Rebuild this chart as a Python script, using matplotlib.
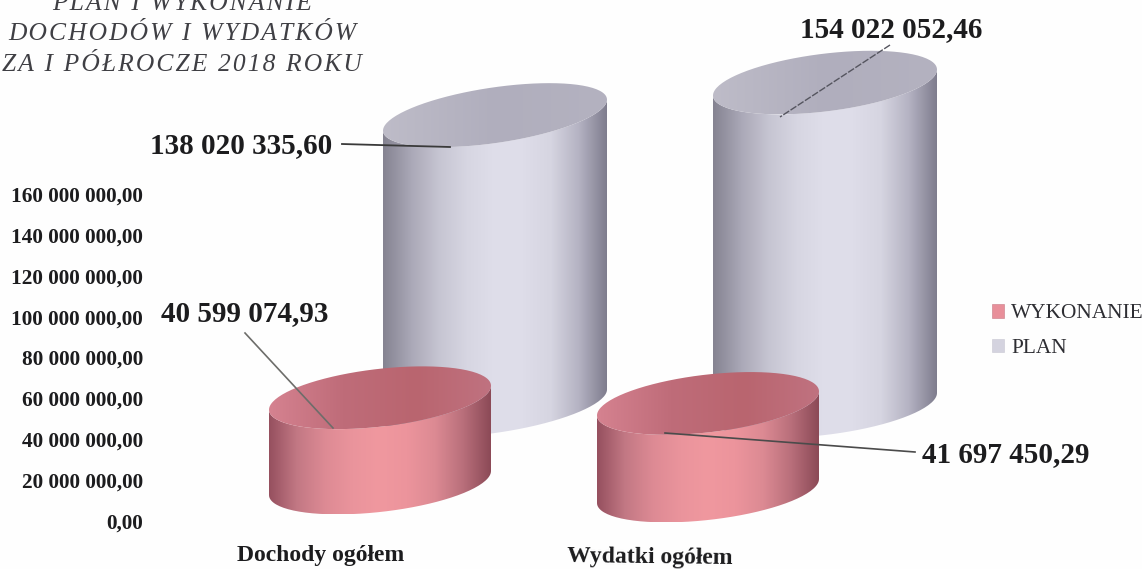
import numpy as np
import matplotlib
matplotlib.use('Agg')
import matplotlib.pyplot as plt
from matplotlib.colors import LinearSegmentedColormap
from matplotlib.patches import Patch, PathPatch
from matplotlib.path import Path

categories = ['Dochody ogółem', 'Wydatki ogółem']
plan = [138020335.60, 154022052.46]
wykonanie = [40599074.93, 41697450.29]
y_ticks = [0, 20000000, 40000000, 60000000, 80000000, 100000000, 120000000, 140000000, 160000000]
title_lines = ['PLAN I WYKONANIE', 'DOCHODÓW I WYDATKÓW', 'ZA I PÓŁROCZE 2018 ROKU']

W, H = 1142, 569
PX_PER_UNIT = 2.1e-6
SERIF = 'Liberation Serif'
TXT = '#1c1c1e'

plt.rcParams['font.family'] = SERIF


def fmt(v):
    return f'{v:,.2f}'.replace(',', ' ').replace('.', ',')


def val(py):
    return (H - py) / PX_PER_UNIT


def spaced(s):
    return '\u200a'.join(s)


def draw_gradient(ax, path, colors, extent, zorder):
    cmap = LinearSegmentedColormap.from_list('c', colors)
    grad = np.linspace(0, 1, 256).reshape(1, -1)
    im = ax.imshow(grad, cmap=cmap, extent=extent, aspect='auto', zorder=zorder, interpolation='bilinear')
    patch = PathPatch(path, transform=ax.transData, fc='none', ec='none')
    ax.add_patch(patch)
    im.set_clip_path(patch)


def cylinder(ax, cx, base_py, value, a, b, s, side, top, zorder):
    base = val(base_py)
    t = np.linspace(np.pi, 2 * np.pi, 80)
    bv, sv = b / PX_PER_UNIT, s / PX_PER_UNIT
    xs = cx + a * np.cos(t)
    low = base + sv * np.cos(t) + bv * np.sin(t)
    up = base + value + sv * np.cos(t) + bv * np.sin(t)
    side_xy = np.vstack([np.c_[xs, low], np.c_[xs[::-1], up[::-1]], [xs[0], low[0]]])
    draw_gradient(ax, Path(side_xy), side, (cx - a, cx + a, low.min(), up.max()), zorder)
    t2 = np.linspace(0, 2 * np.pi, 160)
    xs2 = cx + a * np.cos(t2)
    ys2 = base + value + sv * np.cos(t2) + bv * np.sin(t2)
    draw_gradient(ax, Path(np.c_[xs2, ys2]), top, (cx - a, cx + a, ys2.min(), ys2.max()), zorder + 0.1)


plan_side = ['#858391', '#aaa8b7', '#c6c5d2', '#d7d6e2', '#dfdeea', '#dedde9', '#d6d5e1', '#b5b3c3', '#7f7d8e']
plan_top = ['#bebcc8', '#b0aebd', '#b4b2c0']
wyk_side = ['#96505f', '#c27884', '#dd8a94', '#ea949c', '#f0989f', '#ec949c', '#dc8a93', '#b96f7b', '#8c4a57']
wyk_top = ['#d58290', '#bf6c79', '#b9656f', '#c07280']

fig = plt.figure(figsize=(W / 100, H / 100), dpi=100, facecolor='#fefefe')

ax = fig.add_axes([0, 0, 1, 1])
ax.axis('off')

cylinder(ax, 495, 405, plan[0], 112, 28, 15.5, plan_side, plan_top, 1)
cylinder(ax, 825, 406, plan[1], 112, 29, 13, plan_side, plan_top, 2)
cylinder(ax, 380, 483, wykonanie[0], 111, 29, 12, wyk_side, wyk_top, 3)
cylinder(ax, 708, 491, wykonanie[1], 111, 29, 12, wyk_side, wyk_top, 4)

ax.set_xlim(0, W)
ax.set_ylim(0, H / PX_PER_UNIT)

# leader lines
ax.plot([342, 450], [val(144), val(147)], color='#3a3a3a', lw=1.3, zorder=6)
ax.plot([890, 780], [val(45), val(117)], color='#55555f', lw=1, ls=(0, (5, 1.2)), zorder=6)
ax.plot([245, 333], [val(333), val(428)], color='#6d6d6a', lw=1.2, zorder=6)
ax.plot([915, 665], [val(452), val(433)], color='#4b4b4b', lw=1.2, zorder=6)

# value labels
labels = [(150, 146, plan[0]), (800, 30, plan[1]), (161, 314, wykonanie[0]), (922, 455, wykonanie[1])]
for x, y, v in labels:
    fig.text(x / W, 1 - y / H, fmt(v), fontsize=21, fontweight='bold', color=TXT, ha='left', va='center')

# y axis, only the labels are visible
ax_y = fig.add_axes([143 / W, 1 - 521 / H, 0.01, (521 - 194) / H])
ax_y.set_ylim(0, 160000000)
ax_y.set_yticks(y_ticks)
ax_y.set_yticklabels([fmt(v) for v in y_ticks], fontsize=15.3, fontweight='bold', color=TXT)
ax_y.set_xticks([])
ax_y.tick_params(axis='y', length=0, pad=0)
ax_y.patch.set_alpha(0)
for sp in ax_y.spines.values():
    sp.set_visible(False)

fig.text(321 / W, 1 - 555 / H, categories[0], fontsize=17, fontweight='bold', color=TXT, ha='center', va='center')
fig.text(650 / W, 1 - 557.5 / H, categories[1], fontsize=17, fontweight='bold', color=TXT, ha='center', va='center', rotation=-0.7)

for line, y in zip(title_lines, [4, 34, 65]):
    fig.text(182 / W, 1 - y / H, spaced(line), fontsize=18.4, style='italic', color='#3f3f44', ha='center', va='center')

handles = [Patch(fc='#e88f9a', ec='#c77a86', lw=0.4), Patch(fc='#d4d3df', ec='#c8c7d3', lw=0.4)]
fig.legend(handles, ['WYKONANIE', 'PLAN'], loc='center left', bbox_to_anchor=(992 / W, 1 - 331 / H),
           frameon=False, fontsize=15.4, handlelength=0.55, handleheight=0.6, handletextpad=0.35,
           labelspacing=0.72, labelcolor='#2e2e33', borderpad=0, borderaxespad=0)

fig.savefig('out.png', dpi=100, facecolor=fig.get_facecolor())
